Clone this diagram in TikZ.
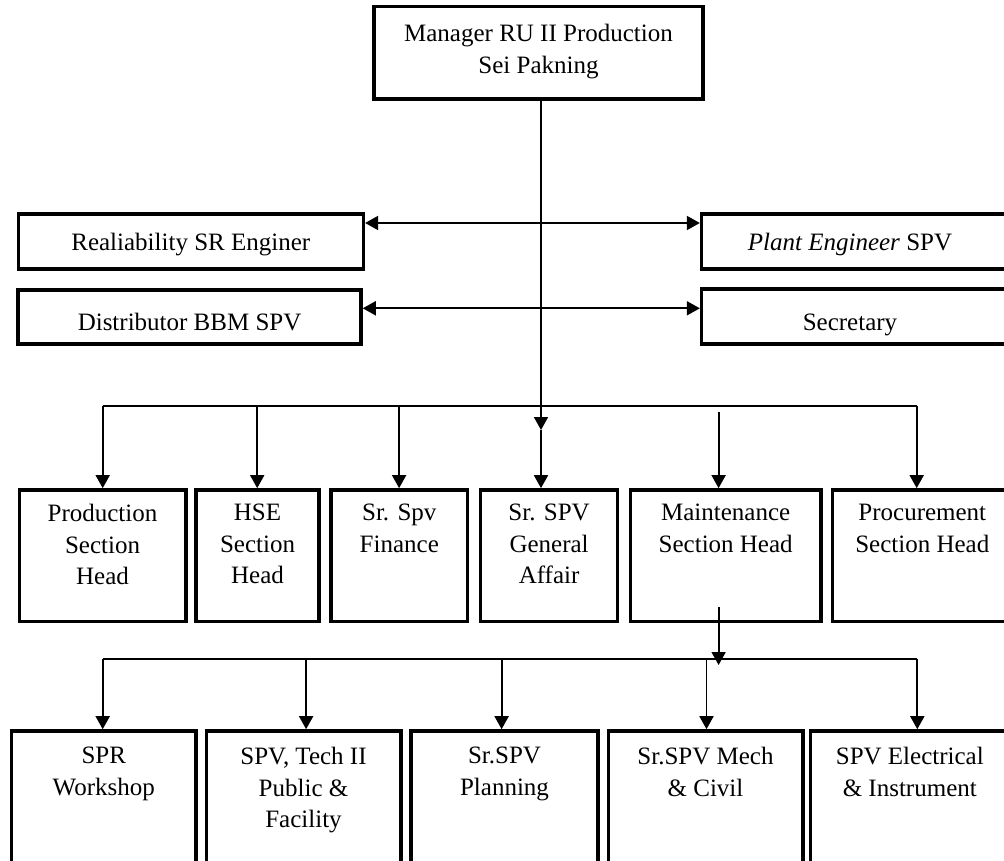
\documentclass[tikz,border=0pt]{standalone}
\usepackage{fontspec}
\setmainfont{Liberation Serif}
\usetikzlibrary{arrows.meta}

\begin{document}
\begin{tikzpicture}[x=1pt,y=-1pt]
	\tikzset{box/.style={draw, line width=3.6pt, inner sep=0pt}}
	\tikzset{txt/.style={align=center, anchor=north, inner sep=0pt, font=\fontsize{25}{31.5}\selectfont, execute at begin node=\strut}}
	\tikzset{conn/.style={line width=1.8pt}}
	\tikzset{arr/.style={conn, -{Triangle[length=13pt,width=14pt]}}}

	\useasboundingbox (0,0) rectangle (1004,861);
	\clip (0,0) rectangle (1004,861);

	\node[box, minimum width=329pt, minimum height=92.6pt] (mgr) at (538.5,53) {};
	\node[box, minimum width=345pt, minimum height=55.3pt] (rel) at (190.8,241.6) {};
	\node[box, minimum width=342.7pt, minimum height=54pt] (dist) at (189.6,317) {};
	\node[box, minimum width=308.3pt, minimum height=55pt] (plant) at (855.8,241.5) {};
	\node[box, minimum width=308.3pt, minimum height=54.7pt] (secr) at (855.8,316.6) {};

	\node[box, minimum width=166.4pt, minimum height=131.7pt] (prod) at (102.5,555.8) {};
	\node[box, minimum width=123.5pt, minimum height=131.7pt] (hse) at (257.5,555.8) {};
	\node[box, minimum width=136.1pt, minimum height=131.7pt] (fin) at (399.3,555.8) {};
	\node[box, minimum width=137.1pt, minimum height=131.7pt] (ga) at (549.1,555.8) {};
	\node[box, minimum width=190.8pt, minimum height=131.7pt] (mnt) at (725.7,555.8) {};
	\node[box, minimum width=179.4pt, minimum height=131.7pt] (proc) at (922.3,555.8) {};

	\node[box, minimum width=184.3pt, minimum height=149pt] (spr) at (103.8,805.5) {};
	\node[box, minimum width=194.4pt, minimum height=149pt] (tech) at (303.5,805.5) {};
	\node[box, minimum width=186.6pt, minimum height=149pt] (plng) at (504.5,805.5) {};
	\node[box, minimum width=194.4pt, minimum height=149pt] (mech) at (705.5,805.5) {};
	\node[box, minimum width=198.4pt, minimum height=149pt] (elec) at (909.8,805.5) {};

	\node[txt] (mgrt) at (538.5,24) {Manager RU II Production\\Sei Pakning};
	\node[txt] (relt) at (190.8,228.5) {Realiability SR Enginer};
	\node[txt] (distt) at (189.6,308) {Distributor BBM SPV};
	\node[txt] (plantt) at (850,228.5) {\textit{Plant Engineer} SPV};
	\node[txt] (secrt) at (850,308.5) {Secretary};

	\node[txt] (prodt) at (102.5,504) {Production\\Section\\Head};
	\node[txt] (hset) at (257.5,504) {HSE\\Section\\Head};
	\node[txt] (fint) at (399.3,504) {Sr. Spv\\Finance};
	\node[txt] (gat) at (549.1,504) {Sr. SPV\\General\\Affair};
	\node[txt] (mntt) at (725.7,504) {Maintenance\\Section Head};
	\node[txt] (proct) at (922.3,504) {Procurement\\Section Head};

	\node[txt] (sprt) at (103.8,747) {SPR\\Workshop};
	\node[txt] (techt) at (303.5,747) {SPV, Tech II\\Public \&\\Facility};
	\node[txt] (plngt) at (504.5,747) {Sr.SPV\\Planning};
	\node[txt] (mecht) at (705.5,747) {Sr.SPV Mech\\\& Civil};
	\node[txt] (elect) at (909.8,747) {SPV Electrical\\\& Instrument};

	\coordinate (j1) at (541,223);
	\coordinate (j2) at (541,308.3);
	\coordinate (m1) at (541,430);
	\coordinate (t1) at (102.7,405.7);
	\coordinate (t2) at (257.2,405.7);
	\coordinate (t3) at (399.1,405.7);
	\coordinate (t6) at (916.7,405.7);
	\coordinate (mt) at (718.6,411.7);
	\coordinate (ms) at (718.6,606.7);
	\coordinate (me) at (718.6,665);
	\coordinate (u1) at (102.7,658.7);
	\coordinate (u2) at (306.1,658.7);
	\coordinate (u3) at (501.6,658.7);
	\coordinate (u4) at (706.5,658.7);
	\coordinate (u5) at (917.3,658.7);

	\draw[arr] (j1 |- mgr.south) -- (m1);
	\draw[arr] (m1) -- (m1 |- ga.north);
	\draw[arr] (j1) -- (j1 -| rel.east);
	\draw[arr] (j1) -- (j1 -| plant.west);
	\draw[arr] (j2) -- (j2 -| dist.east);
	\draw[arr] (j2) -- (j2 -| secr.west);

	\draw[conn] (t1) -- (t6);
	\draw[arr] (t1) -- (t1 |- prod.north);
	\draw[arr] (t2) -- (t2 |- hse.north);
	\draw[arr] (t3) -- (t3 |- fin.north);
	\draw[arr] (mt) -- (mt |- mnt.north);
	\draw[arr] (t6) -- (t6 |- proc.north);

	\draw[arr] (ms) -- (me);
	\draw[conn] (u1) -- (u5);
	\draw[arr] (u1) -- (u1 |- spr.north);
	\draw[arr] (u2) -- (u2 |- tech.north);
	\draw[arr] (u3) -- (u3 |- plng.north);
	\draw[arr] (u4) -- (u4 |- mech.north);
	\draw[arr] (u5) -- (u5 |- elec.north);

\end{tikzpicture}
\end{document}
